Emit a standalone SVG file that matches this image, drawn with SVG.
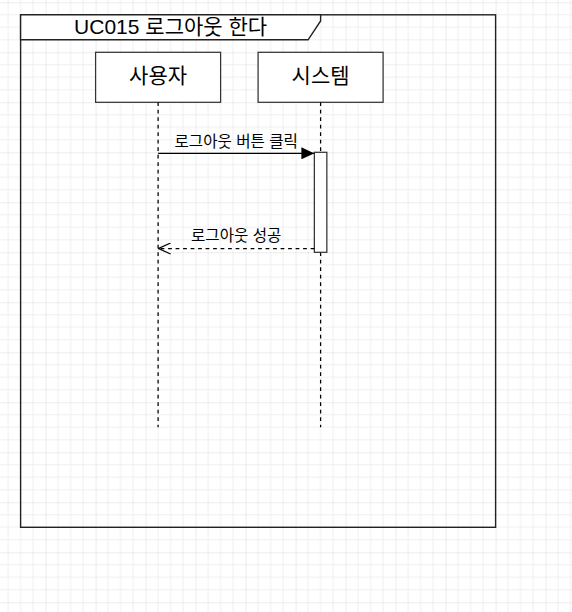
<svg xmlns="http://www.w3.org/2000/svg" width="572" height="612" viewBox="0 0 572 612">
<defs>
<pattern id="grid" x="-4.4" y="2.3" width="50" height="50" patternUnits="userSpaceOnUse">
<path d="M12.5 0V50M25 0V50M37.5 0V50M0 12.5H50M0 25H50M0 37.5H50" stroke="#efefef" stroke-width="1" fill="none"/>
<path d="M0 0V50M0 0H50" stroke="#dcdcdc" stroke-width="1" fill="none"/>
</pattern>
<marker id="filled" viewBox="0 0 13 12" refX="13" refY="6" markerWidth="13" markerHeight="12" markerUnits="userSpaceOnUse" orient="auto">
<path d="M0 0L13 6L0 12Z" fill="#000"/>
</marker>
<marker id="open" viewBox="0 0 14 12" refX="13" refY="6" markerWidth="14" markerHeight="12" markerUnits="userSpaceOnUse" orient="auto">
<path d="M1 0.5L13 6L1 11.5" fill="none" stroke="#000" stroke-width="1.25"/>
</marker>
</defs>
<style>
text{font-family:"Liberation Sans","Noto Sans CJK KR",sans-serif;fill:#000;text-anchor:middle}
.box{fill:#fff;stroke:#333;stroke-width:1.25}
.life{stroke:#000;stroke-width:1.25;stroke-dasharray:3.75 3.75;fill:none}
.msg{stroke:#000;stroke-width:1.25;fill:none}
.big{font-size:21px}
.lbl{font-size:15.6px}
</style>
<rect width="572" height="612" fill="#fff"/>
<rect width="572" height="612" fill="url(#grid)"/>
<g id="frame">
<rect x="20.6" y="14.8" width="475" height="512.5" fill="none" stroke="#222" stroke-width="1.4"/>
<path d="M20.6 14.8H320.6V21L308.1 39.8H20.6Z" fill="#fff" stroke="#222" stroke-width="1.4"/>
<text class="big" x="170.6" y="34">UC015 로그아웃 한다</text>
</g>
<g id="user">
<rect class="box" x="95.6" y="52.3" width="125" height="50"/>
<text class="big" x="158.1" y="83">사용자</text>
<path class="life" d="M158.1 102.3V427.3"/>
</g>
<g id="system">
<rect class="box" x="258.1" y="52.3" width="125" height="50"/>
<text class="big" x="320.6" y="83">시스템</text>
<path class="life" d="M320.6 102.3V427.3"/>
<rect class="box" x="314.35" y="152.3" width="12.5" height="100"/>
</g>
<g id="connectors">
<path class="msg" d="M158.1 153.3H314.35" marker-end="url(#filled)"/>
<text class="lbl" x="236.2" y="146.5">로그아웃 버튼 클릭</text>
<path class="msg" d="M314.35 248.5H158.6" stroke-dasharray="3.75 3.75" marker-end="url(#open)"/>
<text class="lbl" x="236.2" y="240.5">로그아웃 성공</text>
</g>
</svg>
